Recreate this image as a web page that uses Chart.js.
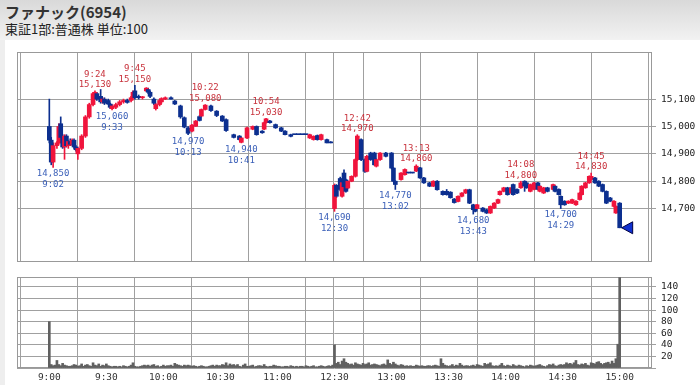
<!DOCTYPE html>
<html>
<head>
<meta charset="utf-8">
<script src="https://cdn.jsdelivr.net/npm/chart.js@4.4.0/dist/chart.umd.min.js"></script>
<style>
  html, body { margin: 0; padding: 0; width: 700px; height: 385px; overflow: hidden; background: #fff; }
  #head { position: absolute; left: 0; top: 0; width: 700px; height: 40px; background: linear-gradient(#d9d9d9, #f2f2f2); }
  #side { position: absolute; left: 0; top: 40px; width: 5px; height: 345px; background: #eeeeee; }
  #title { position: absolute; left: 5px; top: 1px; font: bold 15px "Noto Sans CJK JP"; color: #333; }
  #sub { position: absolute; left: 5px; top: 19px; font: 13px "Noto Sans CJK JP"; color: #222; }
  #pc { position: absolute; left: 0; top: 40px; }
  #vc { position: absolute; left: 0; top: 268px; }
</style>
</head>
<body>
<div id="head">
  <div id="title">ファナック(6954)</div>
  <div id="sub">東証1部:普通株 単位:100</div>
</div>
<div id="side"></div>
<canvas id="pc" width="700" height="228"></canvas>
<canvas id="vc" width="700" height="117"></canvas>
<script>
// time axis: minutes from 9:00 (morning) continuing at 150 = 12:30 (afternoon)
const xTickValues = [0, 30, 60, 90, 120, 149, 150, 180, 210, 240, 270, 300];
const xTickLabels = ['9:00', '9:30', '10:00', '10:30', '11:00', '', '12:30', '13:00', '13:30', '14:00', '14:30', '15:00'];
const priceTicks = [14700, 14800, 14900, 15000, 15100];
const volumeTicks = [0, 20, 40, 60, 80, 100, 120, 140];

// candles (session minute, open, high, low, close)
const barTime = [
  0, 1, 2, 4, 5, 6, 7, 8, 9, 10,
  11, 12, 13, 14, 15, 17, 19, 21, 23, 24,
  25, 27, 28, 29, 31, 32, 33, 35, 37, 39,
  41, 43, 44, 45, 47, 49, 51, 52, 53, 55,
  56, 58, 59, 61, 64, 66, 69, 71, 73, 75,
  77, 79, 80, 82, 85, 88, 91, 93, 97, 100,
  101, 104, 107, 109, 112, 113, 114, 116, 119, 122,
  124, 127, 129, 131, 133, 135, 137, 139, 141, 143,
  146, 148,
  150, 151, 153, 154, 155, 156, 157, 159, 161, 162,
  164, 166, 167, 169, 171, 172, 174, 177, 180, 181,
  182, 185, 187, 189, 191, 193, 195, 197, 200, 202,
  204, 207, 209, 211, 213, 215, 217, 219, 221, 223,
  224, 225, 228, 230, 232, 234, 236, 237, 239, 241,
  243, 244, 246, 248, 250, 251, 253, 255, 257, 258,
  260, 262, 265, 266, 268, 269, 271, 273, 275, 277,
  279, 280, 282, 284, 285, 287, 289, 291, 293, 295,
  297, 298, 300
];
const barOpen = [
  15000, 14950, 14870, 14930, 14940, 15010, 14960, 14925, 14965, 14930,
  14945, 14935, 14950, 14925, 14900, 14920, 14965, 15035, 15080, 15115,
  15120, 15110, 15090, 15100, 15095, 15082, 15065, 15070, 15080, 15090,
  15095, 15095, 15105, 15130, 15110, 15105, 15130, 15135, 15125, 15100,
  15065, 15080, 15090, 15100, 15105, 15093, 15075, 15032, 14995, 14983,
  15001, 15036, 15038, 15062, 15075, 15056, 15038, 15025, 14970, 14965,
  14942, 14958, 14990, 15000, 14983, 14990, 15014, 15020, 15007, 14995,
  14983, 14970, 14970, 14970, 14970, 14970, 14958, 14952, 14967, 14952,
  14952, 14943,
  14700, 14785, 14810, 14745, 14830, 14805, 14775, 14800, 14818, 14879,
  14952, 14879, 14836, 14903, 14903, 14855, 14879, 14903, 14903, 14848,
  14800, 14806, 14824, 14830, 14830, 14837, 14849, 14812, 14794, 14782,
  14800, 14763, 14763, 14760, 14735, 14726, 14745, 14757, 14769, 14714,
  14708, 14700, 14702, 14696, 14684, 14702, 14720, 14751, 14763, 14776,
  14757, 14788, 14770, 14776, 14800, 14794, 14763, 14770, 14794, 14763,
  14757, 14776, 14770, 14782, 14770, 14745, 14727, 14720, 14720, 14714,
  14733, 14751, 14776, 14794, 14806, 14812, 14800, 14788, 14763, 14739,
  14708, 14684, 14720
];
const barHigh = [
  15100, 14960, 14940, 14945, 15010, 15035, 14970, 14970, 14970, 14950,
  14955, 14955, 14955, 14930, 14925, 14970, 15040, 15085, 15125, 15130,
  15125, 15135, 15105, 15105, 15100, 15085, 15080, 15085, 15095, 15100,
  15100, 15110, 15130, 15150, 15115, 15110, 15142, 15140, 15130, 15105,
  15085, 15100, 15105, 15108, 15108, 15095, 15078, 15035, 15000, 15008,
  15022, 15040, 15064, 15080, 15078, 15058, 15040, 15028, 14972, 14967,
  14960, 14998, 15002, 15002, 14985, 15016, 15030, 15022, 15009, 14997,
  14985, 14972, 14970, 14970, 14970, 14970, 14972, 14966, 14969, 14972,
  14954, 14945,
  14790, 14788, 14815, 14800, 14842, 14808, 14802, 14820, 14882, 14970,
  14955, 14882, 14895, 14906, 14906, 14882, 14905, 14906, 14905, 14850,
  14802, 14832, 14845, 14830, 14830, 14860, 14851, 14814, 14796, 14802,
  14802, 14765, 14770, 14762, 14737, 14747, 14759, 14771, 14771, 14716,
  14710, 14716, 14704, 14698, 14710, 14722, 14735, 14765, 14778, 14778,
  14778, 14790, 14772, 14800, 14802, 14796, 14790, 14796, 14796, 14784,
  14778, 14778, 14790, 14784, 14772, 14747, 14729, 14729, 14735, 14729,
  14759, 14784, 14796, 14820, 14830, 14814, 14802, 14790, 14765, 14741,
  14729, 14710, 14722
];
const barLow = [
  14940, 14860, 14850, 14920, 14935, 14940, 14920, 14880, 14925, 14920,
  14930, 14930, 14920, 14910, 14880, 14915, 14960, 15030, 15075, 15100,
  15095, 15085, 15085, 15080, 15080, 15065, 15060, 15065, 15075, 15085,
  15085, 15090, 15100, 15100, 15100, 15100, 15128, 15120, 15105, 15080,
  15060, 15075, 15085, 15098, 15100, 15080, 15030, 14995, 14970, 14980,
  15000, 15020, 15035, 15060, 15055, 15036, 15018, 14982, 14958, 14950,
  14940, 14955, 14988, 14968, 14975, 14988, 15012, 15012, 14993, 14981,
  14969, 14962, 14970, 14970, 14970, 14970, 14956, 14950, 14950, 14950,
  14940, 14940,
  14690, 14740, 14765, 14742, 14775, 14760, 14772, 14798, 14815, 14875,
  14875, 14832, 14834, 14876, 14858, 14852, 14876, 14889, 14845, 14798,
  14770, 14804, 14822, 14830, 14830, 14835, 14810, 14792, 14780, 14780,
  14767, 14749, 14749, 14738, 14720, 14724, 14743, 14755, 14718, 14680,
  14688, 14698, 14688, 14682, 14682, 14700, 14718, 14749, 14761, 14749,
  14755, 14749, 14755, 14774, 14763, 14774, 14761, 14768, 14768, 14761,
  14755, 14761, 14768, 14761, 14749, 14700, 14712, 14718, 14718, 14712,
  14731, 14749, 14774, 14792, 14804, 14792, 14780, 14761, 14718, 14725,
  14706, 14682, 14630
];
const barClose = [
  14950, 14870, 14930, 14940, 15000, 14960, 14925, 14965, 14930, 14945,
  14935, 14950, 14925, 14915, 14920, 14965, 15035, 15080, 15120, 15125,
  15100, 15090, 15100, 15085, 15082, 15070, 15075, 15080, 15090, 15095,
  15088, 15105, 15125, 15105, 15105, 15108, 15140, 15125, 15110, 15085,
  15080, 15095, 15102, 15105, 15100, 15082, 15035, 14998, 14975, 15005,
  15020, 15022, 15062, 15078, 15058, 15040, 15020, 14985, 14960, 14952,
  14958, 14995, 15000, 14970, 14977, 15014, 15028, 15014, 14995, 14983,
  14970, 14964, 14970, 14970, 14970, 14970, 14970, 14964, 14952, 14970,
  14940, 14940,
  14785, 14745, 14770, 14795, 14780, 14763, 14800, 14818, 14879, 14965,
  14879, 14836, 14891, 14879, 14860, 14879, 14903, 14891, 14848, 14800,
  14788, 14830, 14843, 14830, 14830, 14855, 14812, 14794, 14782, 14800,
  14769, 14751, 14751, 14740, 14722, 14745, 14757, 14769, 14720, 14696,
  14690, 14714, 14690, 14684, 14708, 14720, 14733, 14763, 14776, 14751,
  14776, 14751, 14757, 14794, 14782, 14776, 14788, 14794, 14770, 14782,
  14776, 14763, 14788, 14763, 14751, 14714, 14714, 14727, 14733, 14727,
  14757, 14782, 14794, 14818, 14818, 14794, 14782, 14763, 14720, 14727,
  14727, 14708, 14630
];

// marked highs and lows
const highTime = [24, 45, 82, 114, 162, 193, 248, 285];
const highPrice = [15130, 15150, 15080, 15030, 14970, 14860, 14800, 14830];
const highLabel = ['9:24', '9:45', '10:22', '10:54', '12:42', '13:13', '14:08', '14:45'];
const lowTime = [2, 33, 73, 101, 150, 182, 223, 269];
const lowPrice = [14850, 15060, 14970, 14940, 14690, 14770, 14680, 14700];
const lowLabel = ['9:02', '9:33', '10:13', '10:41', '12:30', '13:02', '13:43', '14:29'];

// volume per minute (thousand shares), index = session minute
const volume = [
  80,
  6, 4, 5, 13, 6, 4, 8, 5, 4, 3,
  3, 4, 6, 5, 3, 4, 7, 3, 5, 6,
  4, 3, 9, 5, 4, 7, 3, 5, 4, 7,
  4, 3, 2, 3, 3, 2, 3, 2, 4, 3,
  2, 3, 5, 9, 3, 2, 2, 3, 4, 5,
  4, 5, 3, 5, 6, 3, 4, 2, 3, 5,
  3, 4, 4, 5, 3, 8, 6, 5, 4, 3,
  5, 4, 5, 4, 3, 4, 3, 2, 3, 4,
  3, 2, 2, 3, 4, 5, 3, 5, 4, 4,
  6, 5, 9, 4, 7, 5, 6, 4, 6, 3,
  2, 5, 7, 3, 3, 4, 5, 2, 3, 4,
  4, 3, 6, 3, 2, 3, 3, 5, 4, 3,
  3, 2, 2, 3, 3, 2, 4, 3, 2, 3,
  2, 3, 3, 2, 4, 3, 2, 3, 4, 2,
  2, 3, 4, 3, 2, 3, 4, 3, 5,
  40,
  8, 10, 6, 12, 16, 10, 8, 6, 7, 5,
  9, 7, 6, 5, 8, 6, 7, 9, 5, 6,
  7, 6, 5, 4, 6, 7, 5, 14, 8, 6,
  10, 7, 5, 4, 6, 5, 3, 4, 3, 4,
  3, 3, 5, 4, 3, 4, 3, 3, 4, 4,
  3, 4, 5, 4, 3, 16, 8, 5, 4, 3,
  4, 6, 3, 5, 4, 8, 5, 3, 4, 4,
  3, 4, 5, 3, 6, 5, 4, 3, 8, 6,
  7, 9, 4, 3, 4, 3, 5, 8, 4, 3,
  5, 4, 3, 6, 4, 3, 5, 4, 3, 2,
  4, 3, 5, 4, 3, 4, 5, 6, 4, 3,
  2, 4, 6, 5, 7, 4, 3, 5, 6, 5,
  6, 9, 7, 8, 6, 9, 13, 6, 5, 7,
  6, 8, 5, 4, 9, 8, 7, 10, 11, 8,
  6, 8, 9, 10, 7, 12, 8, 16, 41, 156
];

const UP = '#f0143c';
const DOWN = '#0c2f8f';
const GRID = '#a0a0a0';
const MONO = 'DejaVu Sans Mono';

const candleColors = barOpen.map((o, i) => barClose[i] > o ? UP : DOWN);
const bodies = barTime.map((t, i) => ({ x: t, y: [barOpen[i], barClose[i]] }));
const wicks = barTime.map((t, i) => ({ x: t, y: [barLow[i], barHigh[i]] }));

const fmt = v => v.toLocaleString('en-US');

// plot frame on all four sides
const frame = {
  id: 'frame',
  beforeDatasetsDraw(chart) {
    const a = chart.chartArea, ctx = chart.ctx;
    ctx.save();
    ctx.strokeStyle = '#999';
    ctx.lineWidth = 1;
    ctx.strokeRect(Math.round(a.left) + 0.5, Math.round(a.top) + 0.5, Math.round(a.right - a.left) - 1, Math.round(a.bottom - a.top) - 1);
    ctx.restore();
  }
};

// high / low labels and the close marker
const marks = {
  id: 'marks',
  afterDatasetsDraw(chart) {
    const ctx = chart.ctx, xs = chart.scales.x, ys = chart.scales.y;
    ctx.save();
    ctx.font = '9px ' + MONO;
    ctx.textAlign = 'center';
    ctx.textBaseline = 'middle';
    ctx.fillStyle = '#c8323c';
    highTime.forEach((t, i) => {
      const x = xs.getPixelForValue(t), y = ys.getPixelForValue(highPrice[i]);
      ctx.fillText(highLabel[i], x, y - 16.5);
      ctx.fillText(fmt(highPrice[i]), x, y - 6);
    });
    ctx.fillStyle = '#3a5fb8';
    lowTime.forEach((t, i) => {
      const x = xs.getPixelForValue(t), y = ys.getPixelForValue(lowPrice[i]);
      ctx.fillText(fmt(lowPrice[i]), x, y + 6.5);
      ctx.fillText(lowLabel[i], x, y + 17.5);
    });
    const last = barTime.length - 1;
    const tx = xs.getPixelForValue(barTime[last]) + 2, ty = ys.getPixelForValue(barClose[last]);
    ctx.beginPath();
    ctx.moveTo(tx, ty);
    ctx.lineTo(tx + 11, ty - 6);
    ctx.lineTo(tx + 11, ty + 6);
    ctx.closePath();
    ctx.fillStyle = '#1030d0';
    ctx.fill();
    ctx.strokeStyle = '#000040';
    ctx.lineWidth = 1;
    ctx.stroke();
    ctx.restore();
  }
};

const setTicks = values => scale => { scale.ticks = values.map(v => ({ value: v })); };
// fixed axis boxes, no extra room reserved for edge labels
const fixWidth = scale => { scale.width = 48; scale.paddingTop = 0; scale.paddingBottom = 0; };
const fixHeight = h => scale => { scale.height = h; scale.paddingLeft = 0; scale.paddingRight = 0; };

new Chart(document.getElementById('pc'), {
  type: 'bar',
  data: {
    datasets: [
      { data: bodies, backgroundColor: candleColors, barThickness: 4, minBarLength: 1, grouped: false, order: 0 },
      { data: wicks, backgroundColor: candleColors, barThickness: 1, grouped: false, order: 1 }
    ]
  },
  options: {
    responsive: false,
    animation: false,
    layout: { padding: { left: 17, top: 12, bottom: 6, right: 0 } },
    plugins: { legend: { display: false }, tooltip: { enabled: false } },
    scales: {
      x: {
        type: 'linear', min: -17, max: 317, offset: false,
        afterBuildTicks: setTicks(xTickValues),
        afterFit: fixHeight(0),
        ticks: { display: false },
        grid: { color: GRID, drawTicks: false },
        border: { display: false }
      },
      y: {
        position: 'right', min: 14505, max: 15272,
        afterBuildTicks: setTicks(priceTicks),
        afterFit: fixWidth,
        grid: { color: GRID, tickLength: 4 },
        border: { display: false },
        ticks: { autoSkip: false, padding: 5, color: '#222', font: { family: MONO, size: 9.5 }, callback: v => fmt(v) }
      }
    }
  },
  plugins: [frame, marks]
});

new Chart(document.getElementById('vc'), {
  type: 'bar',
  data: {
    datasets: [
      { data: volume.map((v, i) => ({ x: i, y: v })), backgroundColor: '#606060', barThickness: 2 }
    ]
  },
  options: {
    responsive: false,
    animation: false,
    layout: { padding: { left: 17, top: 9, bottom: 0, right: 0 } },
    plugins: { legend: { display: false }, tooltip: { enabled: false } },
    scales: {
      x: {
        type: 'linear', min: -17, max: 317, offset: false,
        afterBuildTicks: setTicks(xTickValues),
        afterFit: fixHeight(17),
        grid: { color: GRID, drawTicks: false },
        border: { display: false },
        ticks: {
          autoSkip: false, maxRotation: 0, padding: 4, color: '#333',
          font: { family: MONO, size: 9.5 },
          callback: (v, i) => xTickLabels[i]
        }
      },
      y: {
        position: 'right', min: 0, max: 157,
        afterBuildTicks: setTicks(volumeTicks),
        afterFit: fixWidth,
        grid: { color: GRID, tickLength: 4 },
        border: { display: false },
        ticks: { autoSkip: false, padding: 5, color: '#222', font: { family: MONO, size: 9.5 }, callback: v => v === 0 ? '' : v }
      }
    }
  },
  plugins: [frame]
});
</script>
</body>
</html>
